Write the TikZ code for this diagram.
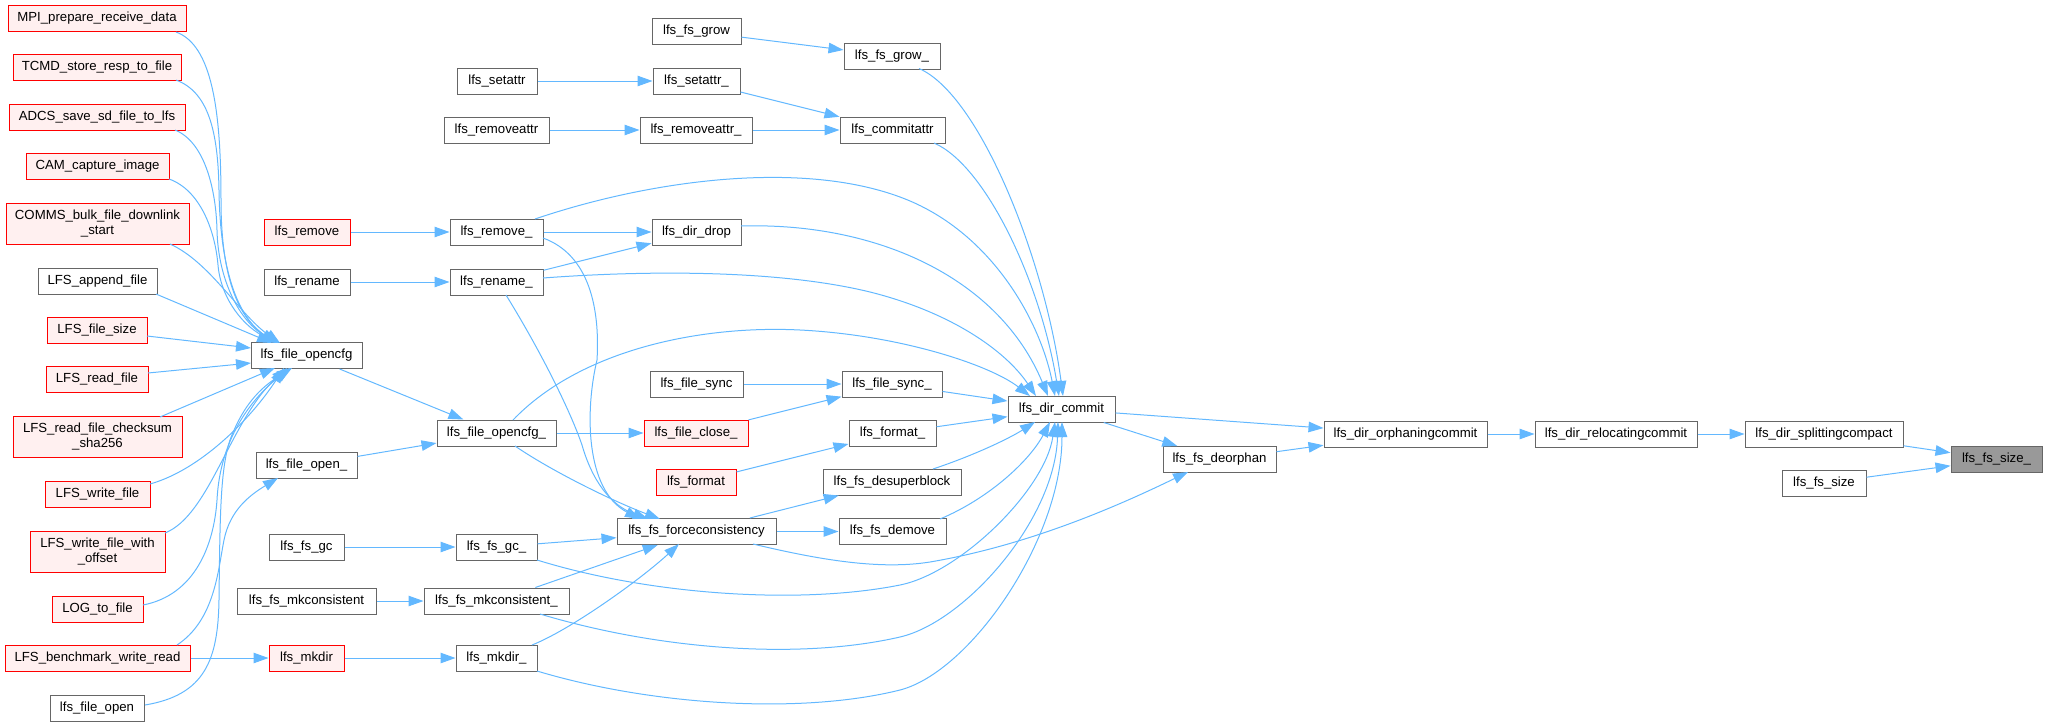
\documentclass[tikz,border=0pt]{standalone}
\usepackage{fontspec}
\setmainfont{Liberation Sans}
\usetikzlibrary{arrows.meta}
\definecolor{edgeblue}{HTML}{63B8FF}
\definecolor{nodegray}{HTML}{666666}
\definecolor{redfill}{HTML}{FFF0F0}
\definecolor{focusfill}{HTML}{999999}
\begin{document}
\begin{tikzpicture}[x=1pt,y=-1pt,
  gbox/.style={draw=nodegray, line width=1pt, fill=white, inner sep=0pt, minimum height=26pt, font=\fontsize{13.2}{15}\selectfont, align=center, text=black},
  rbox/.style={gbox, draw=red, fill=redfill},
  focusbox/.style={gbox, fill=focusfill},
  conn/.style={draw=edgeblue, line width=1pt, -{Triangle[length=15pt,width=10.5pt]}}]
\useasboundingbox (0,0) rectangle (2047,726);
% column 1
\node[rbox, minimum width=178pt] (mpi) at (97,18.5) {MPI\_prepare\_receive\_data};
\node[rbox, minimum width=168pt] (tcmd) at (97,67) {TCMD\_store\_resp\_to\_file};
\node[rbox, minimum width=176pt] (adcs) at (97,117) {ADCS\_save\_sd\_file\_to\_lfs};
\node[rbox, minimum width=143pt] (cam) at (97.5,166) {CAM\_capture\_image};
\node[rbox, minimum width=183pt, minimum height=41pt] (comms) at (97.5,223.5) {COMMS\_bulk\_file\_downlink\\\_start};
\node[gbox, minimum width=119pt] (append) at (97.5,281) {LFS\_append\_file};
\node[rbox, minimum width=100pt] (lfsfilesize) at (97,330) {LFS\_file\_size};
\node[rbox, minimum width=102pt] (readf) at (97,379.5) {LFS\_read\_file};
\node[rbox, minimum width=169pt, minimum height=41pt] (checksum) at (97.5,437) {LFS\_read\_file\_checksum\\\_sha256};
\node[rbox, minimum width=105pt] (writef) at (97.5,494.5) {LFS\_write\_file};
\node[rbox, minimum width=135pt, minimum height=41pt] (woffset) at (97.5,551.5) {LFS\_write\_file\_with\\\_offset};
\node[rbox, minimum width=91pt] (logf) at (97.5,609) {LOG\_to\_file};
\node[rbox, minimum width=185pt] (bench) at (97.5,658) {LFS\_benchmark\_write\_read};
\node[gbox, minimum width=94pt] (fopen) at (97,708) {lfs\_file\_open};
% column 2
\node[rbox, minimum width=86pt] (remove) at (307,232) {lfs\_remove};
\node[gbox, minimum width=86pt] (rename) at (307,282) {lfs\_rename};
\node[gbox, minimum width=111pt] (opencfg) at (306.5,355.5) {lfs\_file\_opencfg};
\node[gbox, minimum width=101pt] (fopenu) at (306.5,465) {lfs\_file\_open\_};
\node[gbox, minimum width=75pt] (fsgc) at (306.5,547) {lfs\_fs\_gc};
\node[gbox, minimum width=139pt] (fsmkc) at (306.5,601) {lfs\_fs\_mkconsistent};
\node[rbox, minimum width=75pt] (mkdir) at (306.5,658) {lfs\_mkdir};
% column 3
\node[gbox, minimum width=80pt] (setattr) at (497,81) {lfs\_setattr};
\node[gbox, minimum width=105pt] (removeattr) at (496.5,130) {lfs\_removeattr};
\node[gbox, minimum width=93pt] (removeu) at (496.5,232) {lfs\_remove\_};
\node[gbox, minimum width=93pt] (renameu) at (496.5,282) {lfs\_rename\_};
\node[gbox, minimum width=119pt] (opencfgu) at (496.5,433) {lfs\_file\_opencfg\_};
\node[gbox, minimum width=81pt] (gcu) at (496.5,547) {lfs\_fs\_gc\_};
\node[gbox, minimum width=145pt] (mkcu) at (496.5,601) {lfs\_fs\_mkconsistent\_};
\node[gbox, minimum width=81pt] (mkdiru) at (496.5,658) {lfs\_mkdir\_};
% column 4
\node[gbox, minimum width=89pt] (fsgrow) at (696.5,31.5) {lfs\_fs\_grow};
\node[gbox, minimum width=87pt] (setattru) at (696.5,81) {lfs\_setattr\_};
\node[gbox, minimum width=112pt] (removeattru) at (696,130) {lfs\_removeattr\_};
\node[gbox, minimum width=89pt] (dirdrop) at (696.5,232) {lfs\_dir\_drop};
\node[gbox, minimum width=93pt] (filesync) at (696.5,384) {lfs\_file\_sync};
\node[rbox, minimum width=104pt] (fcloseu) at (696,433) {lfs\_file\_close\_};
\node[rbox, minimum width=80pt] (format) at (696,482) {lfs\_format};
\node[gbox, minimum width=159pt] (force) at (696.5,531.5) {lfs\_fs\_forceconsistency};
% column 5
\node[gbox, minimum width=96pt] (fsgrowu) at (892,56) {lfs\_fs\_grow\_};
\node[gbox, minimum width=105pt] (commitattr) at (892.5,130) {lfs\_commitattr};
\node[gbox, minimum width=100pt] (fsyncu) at (892,384) {lfs\_file\_sync\_};
\node[gbox, minimum width=87pt] (formatu) at (892.5,433) {lfs\_format\_};
\node[gbox, minimum width=138pt] (desuper) at (892,482) {lfs\_fs\_desuperblock};
\node[gbox, minimum width=107pt] (demove) at (892.5,531.5) {lfs\_fs\_demove};
% right part
\node[gbox, minimum width=107pt] (dircommit) at (1061.5,409) {lfs\_dir\_commit};
\node[gbox, minimum width=113pt] (deorphan) at (1219.5,459.5) {lfs\_fs\_deorphan};
\node[gbox, minimum width=163pt] (orphan) at (1405.5,434) {lfs\_dir\_orphaningcommit};
\node[gbox, minimum width=162pt] (reloc) at (1616,434) {lfs\_dir\_relocatingcommit};
\node[gbox, minimum width=158pt] (split) at (1824,434) {lfs\_dir\_splittingcompact};
\node[gbox, minimum width=84pt] (fssize) at (1824,483) {lfs\_fs\_size};
\node[focusbox, minimum width=91pt] (fssizeu) at (1996.5,459.5) {lfs\_fs\_size\_};

% ---- edges into lfs_file_opencfg
\draw[conn] ([shift={(79,13.5)}]mpi.center) .. controls (212,45) and (221,110) .. (221,200) .. controls (221,270) and (235,315) .. ([shift={(-30.5,-12.5)}]opencfg.center);
\draw[conn] ([shift={(79,13)}]tcmd.center) .. controls (208,92) and (218,130) .. (219,190) .. controls (220,270) and (238,318) .. ([shift={(-29.5,-12.5)}]opencfg.center);
\draw[conn] ([shift={(78,13)}]adcs.center) .. controls (205,142) and (216,190) .. (217,230) .. controls (218,280) and (240,322) .. ([shift={(-28.5,-12.5)}]opencfg.center);
\draw[conn] ([shift={(71.5,13)}]cam.center) .. controls (200,190) and (215,230) .. (218,265) .. controls (221,300) and (245,328) .. ([shift={(-27.5,-12.5)}]opencfg.center);
\draw[conn] ([shift={(72.5,20.5)}]comms.center) .. controls (210,262) and (240,315) .. ([shift={(-26.5,-12.5)}]opencfg.center);
\draw[conn] ([shift={(58.5,13)}]append.center) -- ([shift={(-34.5,-12.5)}]opencfg.center);
\draw[conn] ([shift={(50,6)}]lfsfilesize.center) -- ([shift={(-55.5,-7.5)}]opencfg.center);
\draw[conn] ([shift={(51,-6.5)}]readf.center) -- ([shift={(-55.5,7.5)}]opencfg.center);
\draw[conn] ([shift={(62.5,-20)}]checksum.center) -- ([shift={(-31.5,12.5)}]opencfg.center);
\draw[conn] ([shift={(52.5,-10.5)}]writef.center) .. controls (200,470) and (250,420) .. ([shift={(-22.5,12.5)}]opencfg.center);
\draw[conn] ([shift={(67.5,-18.5)}]woffset.center) .. controls (210,515) and (230,420) .. ([shift={(-19.5,12.5)}]opencfg.center);
\draw[conn] ([shift={(45.5,-4)}]logf.center) .. controls (195,595) and (214,545) .. (217,500) .. controls (220,440) and (250,400) .. ([shift={(-16.5,12.5)}]opencfg.center);
\draw[conn] ([shift={(48,-3)}]fopen.center) .. controls (205,695) and (218,660) .. (219,600) .. controls (220,520) and (220,470) .. (230,440) .. controls (245,400) and (265,385) .. ([shift={(-14.5,12.5)}]opencfg.center);
\draw[conn] ([shift={(79.5,-13)}]bench.center) .. controls (215,620) and (218,570) .. (224,540) .. controls (230,510) and (250,495) .. ([shift={(-28.5,13)}]fopenu.center);
\draw[conn] (bench) -- (mkdir);
% ---- column 2 -> 3
\draw[conn] (remove) -- (removeu);
\draw[conn] (rename) -- (renameu);
\draw[conn] (opencfg) -- (opencfgu);
\draw[conn] (fopenu) -- (opencfgu);
\draw[conn] (fsgc) -- (gcu);
\draw[conn] (fsmkc) -- (mkcu);
\draw[conn] (mkdir) -- (mkdiru);
% ---- column 3 -> 4
\draw[conn] (setattr) -- (setattru);
\draw[conn] (removeattr) -- (removeattru);
\draw[conn] (removeu) -- (dirdrop);
\draw[conn] (renameu) -- (dirdrop);
\draw[conn] (opencfgu) -- (fcloseu);
\draw[conn] (gcu) -- (force);
\draw[conn] (mkcu) -- (force);
\draw[conn] ([shift={(35.5,-13)}]mkdiru.center) .. controls (570,630) and (640,580) .. ([shift={(-17.5,12.5)}]force.center);
\draw[conn] ([shift={(46.5,6)}]removeu.center) .. controls (590,255) and (600,310) .. (597,360) .. controls (585,410) and (585,490) .. ([shift={(-56.5,-12.5)}]force.center);
\draw[conn] ([shift={(9.5,13)}]renameu.center) .. controls (540,350) and (570,410) .. (582,445) .. controls (592,480) and (610,505) .. ([shift={(-48.5,-12.5)}]force.center);
\draw[conn] ([shift={(18.5,13)}]opencfgu.center) .. controls (550,470) and (610,500) .. ([shift={(-36.5,-12.5)}]force.center);
% ---- column 4 -> 5
\draw[conn] (fsgrow) -- (fsgrowu);
\draw[conn] (setattru) -- (commitattr);
\draw[conn] (removeattru) -- (commitattr);
\draw[conn] (filesync) -- (fsyncu);
\draw[conn] (fcloseu) -- (fsyncu);
\draw[conn] (format) -- (formatu);
\draw[conn] (force) -- (desuper);
\draw[conn] (force) -- (demove);
% ---- into lfs_dir_commit
\draw[conn] ([shift={(27,12.5)}]fsgrowu.center) .. controls (980,95) and (1045,260) .. ([shift={(1.5,-13)}]dircommit.center);
\draw[conn] ([shift={(41.5,13)}]commitattr.center) .. controls (985,165) and (1040,280) .. ([shift={(-2.5,-13)}]dircommit.center);
\draw[conn] ([shift={(38.5,-13)}]removeu.center) .. controls (650,180) and (800,160) .. (900,197) .. controls (990,230) and (1040,320) .. ([shift={(-6.5,-13)}]dircommit.center);
\draw[conn] ([shift={(44.5,-6)}]dirdrop.center) .. controls (880,222) and (1000,280) .. ([shift={(-13.5,-13)}]dircommit.center);
\draw[conn] ([shift={(46.5,-4)}]renameu.center) .. controls (650,270) and (780,270) .. (870,292) .. controls (950,312) and (1005,350) .. ([shift={(-25.5,-13)}]dircommit.center);
\draw[conn] ([shift={(16.5,-13)}]opencfgu.center) .. controls (580,350) and (700,325) .. (800,330) .. controls (900,335) and (990,365) .. ([shift={(-31.5,-13)}]dircommit.center);
\draw[conn] (fsyncu) -- (dircommit);
\draw[conn] (formatu) -- (dircommit);
\draw[conn] ([shift={(41,-13)}]desuper.center) .. controls (975,455) and (1010,438) .. ([shift={(-26.5,13)}]dircommit.center);
\draw[conn] ([shift={(47.5,-12.5)}]demove.center) .. controls (990,498) and (1030,460) .. ([shift={(-11.5,13)}]dircommit.center);
\draw[conn] ([shift={(40.5,13)}]gcu.center) .. controls (650,595) and (800,605) .. (900,585) .. controls (960,573) and (1045,490) .. ([shift={(-6.5,13)}]dircommit.center);
\draw[conn] ([shift={(43.5,13)}]mkcu.center) .. controls (660,650) and (800,660) .. (900,637) .. controls (965,622) and (1055,520) .. ([shift={(-3.5,13)}]dircommit.center);
\draw[conn] ([shift={(40.5,13)}]mkdiru.center) .. controls (650,705) and (800,715) .. (900,690) .. controls (970,672) and (1062,540) .. ([shift={(0.5,13)}]dircommit.center);
% ---- right part
\draw[conn] ([shift={(56.5,12.5)}]force.center) .. controls (820,560) and (880,570) .. (930,562) .. controls (1030,545) and (1120,505) .. ([shift={(-31.5,12.5)}]deorphan.center);
\draw[conn] (dircommit) -- (deorphan);
\draw[conn] (dircommit) -- (orphan);
\draw[conn] (deorphan) -- (orphan);
\draw[conn] (orphan) -- (reloc);
\draw[conn] (reloc) -- (split);
\draw[conn] (split) -- (fssizeu);
\draw[conn] (fssize) -- (fssizeu);
\end{tikzpicture}
\end{document}
